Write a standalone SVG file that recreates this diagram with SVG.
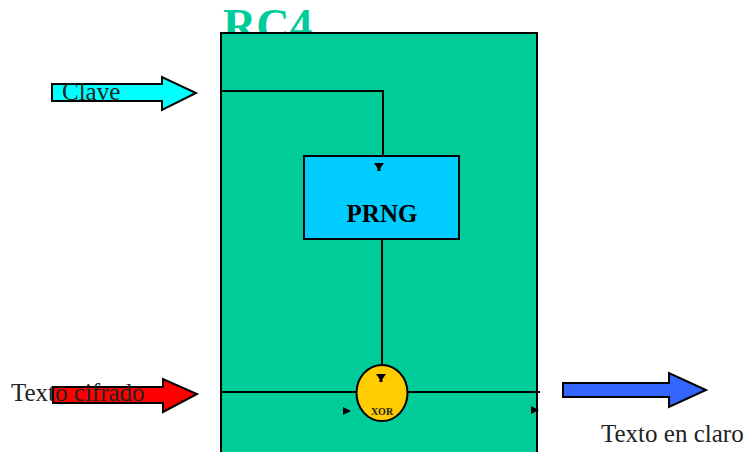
<svg xmlns="http://www.w3.org/2000/svg" width="753" height="452" viewBox="0 0 753 452">
  <style>
    .ln { stroke: #000; stroke-width: 2; fill: none; }
    .box { stroke: #000; stroke-width: 2; }
    .arrow { stroke: #000; stroke-width: 2; stroke-linejoin: miter; }
    .lbl { font-family: "Liberation Serif", "Times New Roman", serif; font-size: 25px; fill: #222; }
    .bold { font-family: "Liberation Serif", "Times New Roman", serif; font-weight: bold; }
  </style>
  <defs>
    <path id="tri-down" d="M -5 -4 L 5 -4 L 1.5 1 L 1.5 4 L -1.5 4 L -1.5 1 Z" fill="#000"/>
    <path id="tri-right" d="M -4 -4 L 4 0 L -4 4 Z" fill="#000"/>
  </defs>
  <rect width="753" height="452" fill="#fff"/>

  <!-- RC4 container: title sits behind the box -->
  <g id="rc4">
    <text x="223" y="41" class="bold" font-size="46" fill="#00CC99">RC4</text>
    <rect x="221" y="33" width="316" height="430" fill="#00CC99" class="box"/>
  </g>

  <!-- Connectors -->
  <g id="connectors">
    <polyline class="ln" points="221,91 383,91 383,156"/>
    <line class="ln" x1="382" y1="239" x2="382" y2="365"/>
    <line class="ln" x1="221" y1="392" x2="540" y2="392"/>
  </g>

  <!-- PRNG block -->
  <g id="prng">
    <rect x="304" y="156" width="155" height="83" fill="#00CCFF" class="box"/>
    <use href="#tri-down" x="379" y="167"/>
    <text x="382" y="222" class="bold" font-size="25" text-anchor="middle" fill="#000">PRNG</text>
  </g>

  <!-- XOR combiner -->
  <g id="xor">
    <ellipse cx="382" cy="393" rx="25.5" ry="28" fill="#FFCC00" class="box"/>
    <use href="#tri-down" x="381" y="378"/>
    <text x="382" y="415" class="bold" font-size="10" text-anchor="middle" fill="#222">XOR</text>
    <use href="#tri-right" x="347" y="411"/>
    <use href="#tri-right" x="535" y="410"/>
  </g>

  <!-- Key input -->
  <g id="clave">
    <path class="arrow" fill="#00FFFF" d="M 52 84 L 162 84 L 162 77 L 196 93 L 162 110 L 162 101 L 52 101 Z"/>
    <text x="62" y="100" class="lbl">Clave</text>
  </g>

  <!-- Ciphertext input -->
  <g id="texto-cifrado">
    <path class="arrow" fill="#FF0000" d="M 53 387 L 163 387 L 163 379 L 197 394 L 163 412 L 163 403 L 53 403 Z"/>
    <text x="11" y="401" class="lbl">Texto cifrado</text>
  </g>

  <!-- Plaintext output -->
  <g id="texto-claro">
    <path class="arrow" fill="#3366FF" d="M 563 383 L 669 383 L 669 373 L 706 390 L 669 407 L 669 397 L 563 397 Z"/>
    <text x="601" y="442" class="lbl">Texto en claro</text>
  </g>
</svg>
